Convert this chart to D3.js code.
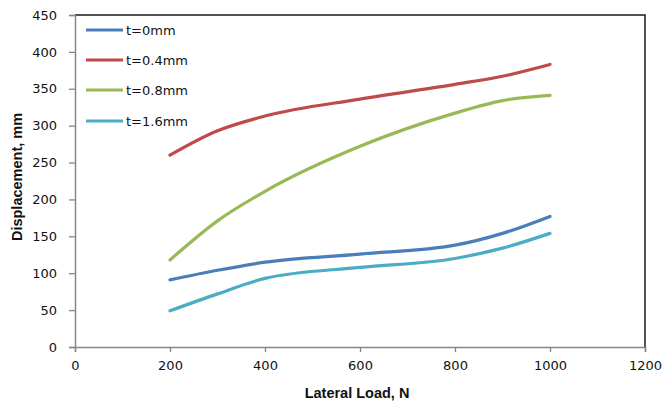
<!DOCTYPE html>
<html><head><meta charset="utf-8">
<script src="https://cdn.jsdelivr.net/npm/d3@7"></script>
<style>body{margin:0;background:#fff}svg{display:block}</style>
</head><body>
<svg id="c" width="665" height="405"></svg>
<script>
const loads = [200, 300, 400, 600, 800, 900, 1000];
const s0 = [91, 104, 115, 126, 138, 154, 177];
const s04 = [260, 293, 313, 336, 356, 367, 383];
const s08 = [118, 171, 211, 272, 317, 334, 341];
const s16 = [49, 72, 93, 108, 120, 134, 154];
const seriesNames = ["t=0mm", "t=0.4mm", "t=0.8mm", "t=1.6mm"];
const seriesColors = ["#4a7ebb", "#be4b48", "#98b954", "#4bacc6"];
const xTicks = [0, 200, 400, 600, 800, 1000, 1200];
const yTicks = [0, 50, 100, 150, 200, 250, 300, 350, 400, 450];

const svg = d3.select("#c");
const L = 75, R = 645, T = 15, B = 347;
const x = d3.scaleLinear().domain([0, 1200]).range([L, R]);
const y = d3.scaleLinear().domain([0, 450]).range([B, T]);
const font = "DejaVu Sans, Verdana, sans-serif";

svg.append("path").attr("d", `M${L},${T}H${R}V${B}`).attr("fill","none").attr("stroke","#1a1a1a").attr("stroke-width",1.5);

const gx = svg.append("g").attr("transform", `translate(0,${B})`)
  .call(d3.axisBottom(x).tickValues(xTicks).tickSize(5).tickPadding(9).tickFormat(d3.format("d")));
const gy = svg.append("g").attr("transform", `translate(${L},0)`)
  .call(d3.axisLeft(y).tickValues(yTicks).tickSize(6).tickPadding(12).tickFormat(d3.format("d")));
[gx, gy].forEach(g => {
  g.select(".domain").attr("stroke", "#868686").attr("stroke-width", 1.5);
  g.selectAll(".tick line").attr("stroke", "#868686").attr("stroke-width", 1.3);
  g.selectAll("text").attr("font-family", font).attr("font-size", 13).attr("fill", "#111");
});

const all = [s0, s04, s08, s16];
const line = d3.line().x((d, i) => x(loads[i])).y(d => y(d)).curve(d3.curveMonotoneX);
all.forEach((s, k) => {
  svg.append("path").datum(s).attr("d", line).attr("fill", "none")
    .attr("stroke", seriesColors[k]).attr("stroke-width", 3.2).attr("stroke-linecap", "round");
});

const ly = [30, 60, 90, 121];
seriesNames.forEach((n, k) => {
  svg.append("line").attr("x1", 86).attr("x2", 123).attr("y1", ly[k]).attr("y2", ly[k])
    .attr("stroke", seriesColors[k]).attr("stroke-width", 3.2);
  svg.append("text").attr("x", 126).attr("y", ly[k] + 5).text(n)
    .attr("font-family", font).attr("font-size", 13).attr("fill", "#111");
});

svg.append("text").attr("x", 357).attr("y", 398).attr("text-anchor", "middle")
  .attr("font-family", "Liberation Sans, Arial, sans-serif").attr("font-weight", "bold").attr("font-size", 14.5)
  .attr("fill", "#111").text("Lateral Load, N");
svg.append("text").attr("transform", "translate(22,177) rotate(-90)").attr("text-anchor", "middle")
  .attr("font-family", "Liberation Sans, Arial, sans-serif").attr("font-weight", "bold").attr("font-size", 14.5)
  .attr("fill", "#111").text("Displacement, mm");
</script>
</body></html>
